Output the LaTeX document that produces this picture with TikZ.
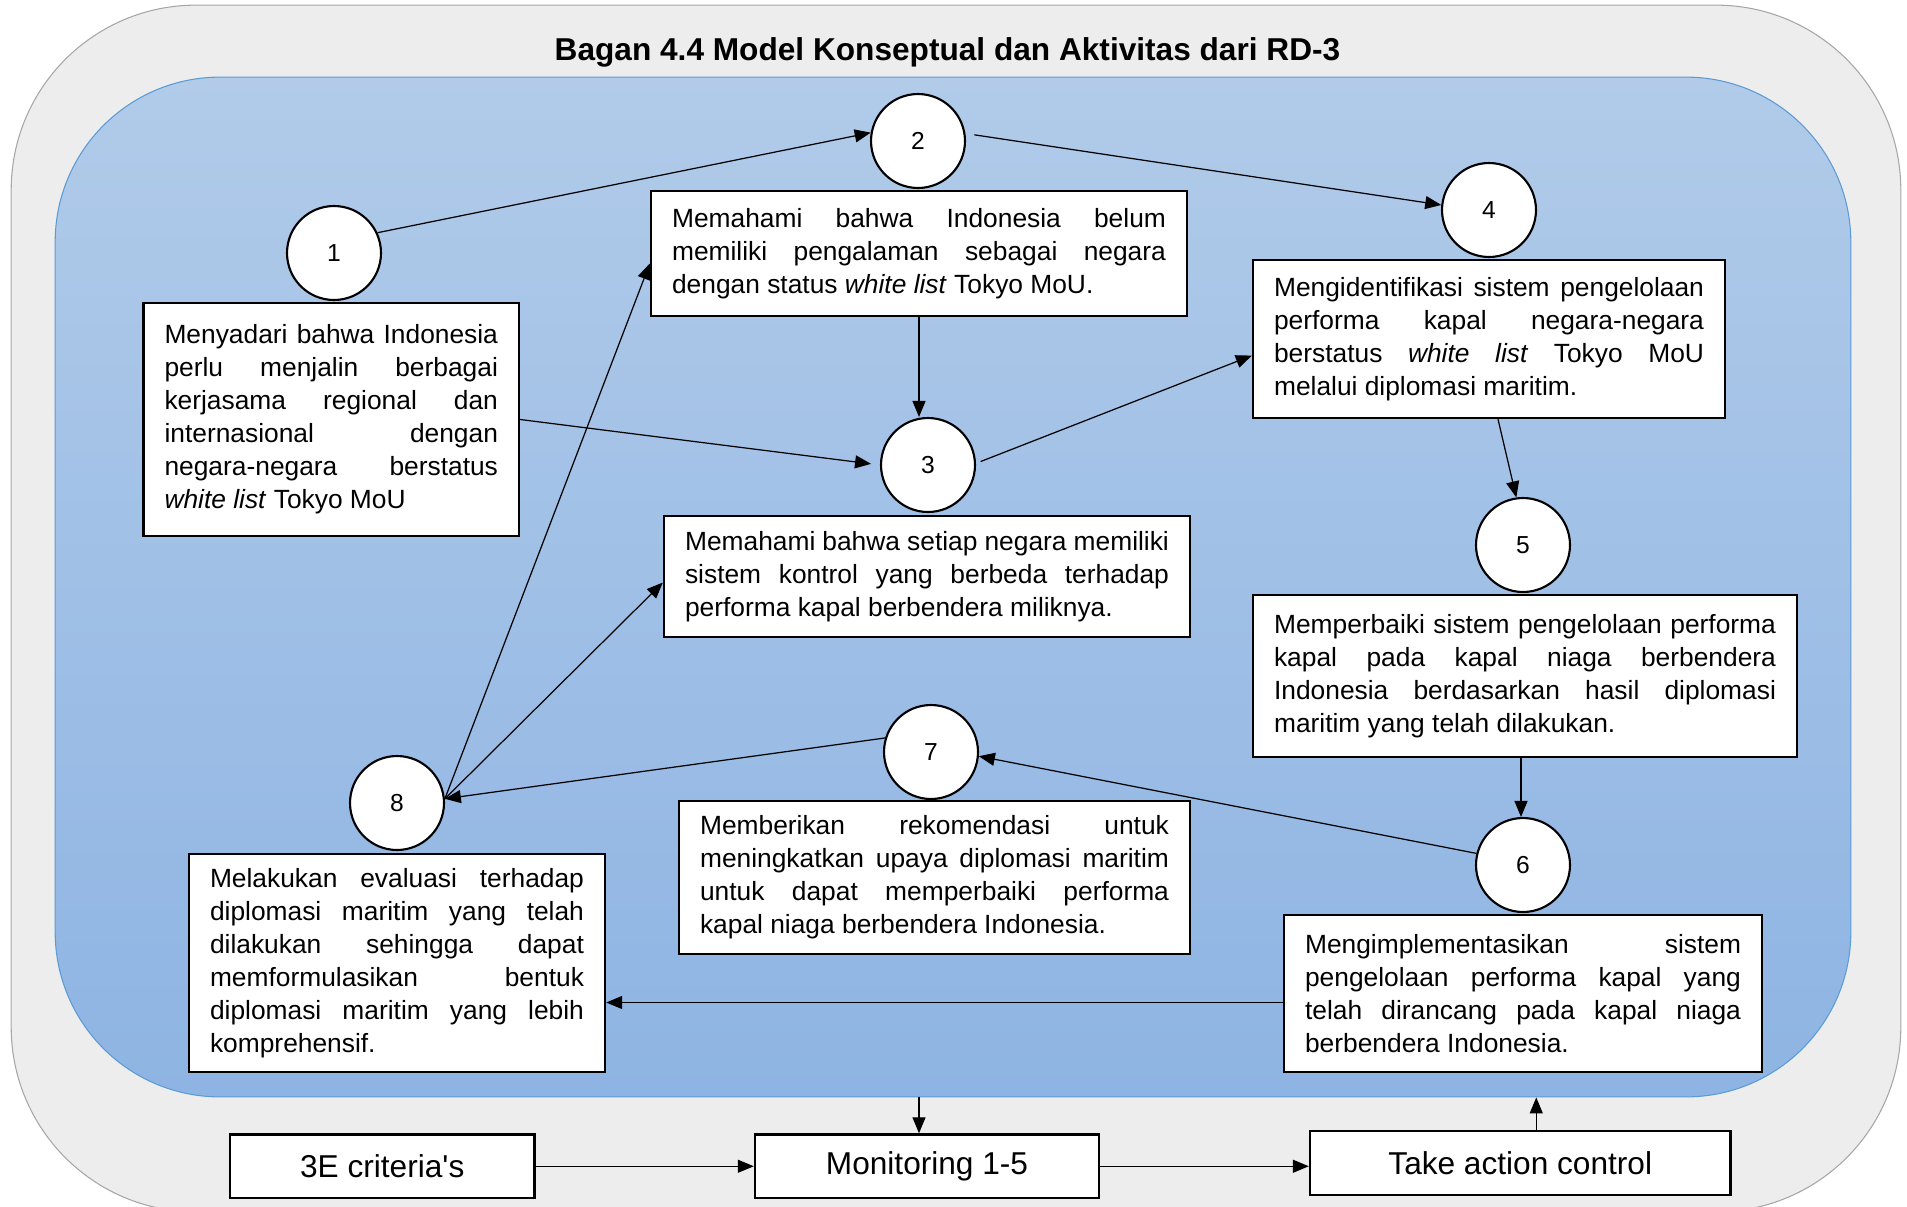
\documentclass[tikz,border=0pt]{standalone}
\usepackage{fontspec}
\setmainfont{Liberation Sans}
\usetikzlibrary{arrows.meta,calc}
\definecolor{panelgray}{HTML}{EDEDED}
\definecolor{paneledge}{HTML}{A6A6A6}
\definecolor{bluetop}{HTML}{B1CBE9}
\definecolor{bluebot}{HTML}{8EB4E3}
\definecolor{blueedge}{HTML}{5B9BD5}
% one fully justified line of a text box
\newlength\jw
\newcommand\jl[1]{\makebox[\jw][s]{\spaceskip=0pt\xspaceskip=0pt\relax #1}\\}

\begin{document}
\begin{tikzpicture}[x=0.02cm,y=-0.02cm,
  txtbox/.style={draw=black, fill=white, line width=1.4pt, rectangle,
    inner xsep=0.42cm, inner ysep=0pt, align=justify,
    text width=#1, execute at begin node={\setlength{\jw}{#1}},
    font=\fontsize{15}{18.8}\selectfont},
  num/.style={draw=black, fill=white, line width=1.2pt, circle,
    minimum size=1.88cm, inner sep=0pt, font=\fontsize{14}{16}\selectfont},
  ctl/.style={draw=black, fill=white, line width=1.4pt, rectangle,
    inner sep=0pt, minimum height=1.27cm, font=\fontsize{18}{20}\selectfont},
  arr/.style={draw=black, line width=0.7pt,
    -{Triangle[length=0.32cm,width=0.26cm]}},
]
\useasboundingbox (0,0) rectangle (1907,1207);

% background panels
\node[draw=paneledge, fill=panelgray, line width=0.6pt, rounded corners=3.7cm,
  minimum width=37.8cm, minimum height=24.14cm, inner sep=0pt] (panel) at (956,608.5) {};
\node[draw=blueedge, top color=bluetop, bottom color=bluebot, line width=0.6pt,
  rounded corners=3.3cm, minimum width=35.92cm, minimum height=20.4cm,
  inner sep=0pt] (blue) at (953,587) {};

\node[font=\fontsize{18}{20}\selectfont\bfseries, anchor=base] (title) at (947.5,60)
  {Bagan 4.4 Model Konseptual dan Aktivitas dari RD-3};

% activity boxes
\node[txtbox=6.67cm, minimum height=4.66cm] (b1) at (331.25,419.5)
  {\jl{Menyadari bahwa Indonesia}\jl{perlu menjalin berbagai}\jl{kerjasama regional dan}%
   \jl{internasional dengan}\jl{negara-negara berstatus}\textit{white list} Tokyo MoU};
\node[txtbox=9.88cm, minimum height=2.5cm] (b2) at (919,253.5)
  {\jl{Memahami bahwa Indonesia belum}\jl{memiliki pengalaman sebagai negara}%
   dengan status \textit{white list} Tokyo MoU.};
\node[txtbox=9.68cm, minimum height=2.42cm] (b3) at (927,576.5)
  {\jl{Memahami bahwa setiap negara memiliki}\jl{sistem kontrol yang berbeda terhadap}%
   performa kapal berbendera miliknya.};
\node[txtbox=8.6cm, minimum height=3.16cm] (b4) at (1489,339)
  {\jl{Mengidentifikasi sistem pengelolaan}\jl{performa kapal negara-negara}%
   \jl{berstatus \textit{white} \textit{list} Tokyo MoU}melalui diplomasi maritim.};
\node[txtbox=10.04cm, minimum height=3.24cm] (b5) at (1525,676)
  {\jl{Memperbaiki sistem pengelolaan performa}\jl{kapal pada kapal niaga berbendera}%
   \jl{Indonesia berdasarkan hasil diplomasi}maritim yang telah dilakukan.};
\node[txtbox=8.72cm, minimum height=3.14cm] (b6) at (1523,993.5)
  {\jl{Mengimplementasikan sistem}\jl{pengelolaan performa kapal yang}%
   \jl{telah dirancang pada kapal niaga}berbendera Indonesia.};
\node[txtbox=9.38cm, minimum height=3.06cm] (b7) at (934.5,877.5)
  {\jl{Memberikan rekomendasi untuk}\jl{meningkatkan upaya diplomasi maritim}%
   \jl{untuk dapat memperbaiki performa}kapal niaga berbendera Indonesia.};
\node[txtbox=7.48cm, minimum height=4.36cm] (b8) at (397,963)
  {\jl{Melakukan evaluasi terhadap}\jl{diplomasi maritim yang telah}%
   \jl{dilakukan sehingga dapat}\jl{memformulasikan bentuk}%
   \jl{diplomasi maritim yang lebih}komprehensif.};

% step numbers
\node[num] (c1) at (334,253) {1};
\node[num] (c2) at (918,141) {2};
\node[num] (c3) at (928,465) {3};
\node[num] (c4) at (1489,210) {4};
\node[num] (c5) at (1523,545) {5};
\node[num] (c6) at (1523,865) {6};
\node[num] (c7) at (931,752) {7};
\node[num] (c8) at (397,803) {8};

% control boxes
\node[ctl, minimum width=6.09cm] (e3) at (382.25,1166.25) {3E criteria\textquotesingle s};
\node[ctl, minimum width=6.88cm] (mon) at (927,1166.25) {Monitoring 1-5};
\node[ctl, minimum width=8.41cm, minimum height=1.28cm] (tac) at (1520.25,1163) {Take action control};

% flow between activities
\draw[arr] (c1.25) -- (c2.170);
\draw[arr, shorten <=0.18cm] (c2.9) -- (c4.174);
\draw[arr] (b2.south) -- (b2.south |- c3.north);
\draw[arr, shorten >=0.18cm] (b1.east) -- (c3.180);
\draw[arr, shorten <=0.1cm] (c3.2) -- (b4.184);
\draw[arr] ($(b4.south)+(9,0)$) -- (c5.98);
\coordinate (s5) at ($(b5.south)+(-4,0)$);
\draw[arr] (s5) -- (s5 |- c6.north);
\draw[arr] (c6.166) -- (c7.-5);
\draw[arr] (c7.163) -- (c8.5);
\draw[arr] (c8.5) -- ($(b2.west)+(0,10)$);
\draw[arr] (c8.5) -- ($(b3.west)+(0,6)$);
\coordinate (m6) at ($(b6.west)+(0,9)$);
\draw[arr] (m6) -- (m6 -| b8.east);

% control loop
\coordinate (mIn) at ($(blue.south)+(-34,0)$);
\draw[arr] (mIn) -- (mIn |- mon.north);
\draw[arr] (e3.east) -- (mon.west);
\draw[arr] (mon.east) -- (mon.east -| tac.west);
\coordinate (tOut) at ($(tac.north)+(16,0)$);
\draw[arr] (tOut) -- (tOut |- blue.south);
\end{tikzpicture}
\end{document}
